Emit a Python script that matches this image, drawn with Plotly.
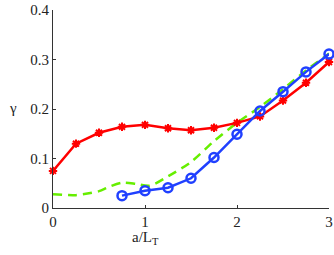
import plotly.graph_objects as go

x_red = [0, 0.25, 0.5, 0.75, 1.0, 1.25, 1.5, 1.75, 2.0, 2.25, 2.5, 2.75, 3.0]
y_red = [0.075, 0.130, 0.152, 0.164, 0.168, 0.161, 0.157, 0.162, 0.172, 0.185, 0.217, 0.253, 0.295]

x_blue = [0.75, 1.0, 1.25, 1.5, 1.75, 2.0, 2.25, 2.5, 2.75, 3.0]
y_blue = [0.025, 0.035, 0.041, 0.060, 0.102, 0.149, 0.196, 0.235, 0.275, 0.311]

x_green = [0, 0.25, 0.5, 0.6, 0.75, 0.9, 1.05, 1.25, 1.5, 1.75, 2.0, 2.25, 2.5, 2.75, 3.0]
y_green = [0.028, 0.026, 0.034, 0.042, 0.051, 0.049, 0.045, 0.064, 0.093, 0.135, 0.172, 0.204, 0.240, 0.278, 0.312]

xticks = [0, 1, 2, 3]
yticks = [0, 0.1, 0.2, 0.3, 0.4]
ytick_text = ["0", "0.1", "0.2", "0.3", "0.4"]

fig = go.Figure()
fig.add_trace(go.Scatter(x=x_green, y=y_green, mode="lines", line=dict(color="#66ee00", width=2.5, dash="9px,6px", shape="spline", smoothing=0.8), cliponaxis=False))
fig.add_trace(go.Scatter(x=x_red, y=y_red, mode="lines+markers", line=dict(color="#ff0000", width=2.5),
                         marker=dict(symbol="asterisk-open", size=7, color="#ff0000", line=dict(color="#ff0000", width=2)), cliponaxis=False))
fig.add_trace(go.Scatter(x=x_blue, y=y_blue, mode="lines+markers", line=dict(color="#2040ff", width=2.5),
                         marker=dict(symbol="circle-open", size=9, color="#2040ff", line=dict(color="#2040ff", width=2.5)), cliponaxis=False))

font = dict(family="Liberation Serif", size=15, color="#222")
fig.update_layout(
    width=334, height=255, margin=dict(l=53, r=5, t=10, b=47, autoexpand=False),
    paper_bgcolor="white", plot_bgcolor="white", showlegend=False, font=font,
    xaxis=dict(range=[0, 3], tickvals=xticks, ticks="inside", ticklen=3, tickcolor="#333",
               showline=True, linecolor="#333", linewidth=1, showgrid=False, zeroline=False,
               tickfont=font, automargin=False),
    yaxis=dict(range=[0, 0.4], tickvals=yticks, ticktext=ytick_text, ticks="inside", ticklen=3, tickcolor="#333",
               showline=True, linecolor="#333", linewidth=1, showgrid=False, zeroline=False,
               tickfont=font, automargin=False),
    annotations=[
        dict(text="γ", x=13, y=108, xref="paper", yref="paper", showarrow=False, font=font),
        dict(text="a/L<sub>T</sub>", xref="paper", yref="paper", showarrow=False, font=font),
    ],
)
pw, ph = 334 - 53 - 5, 255 - 10 - 47
fig.layout.annotations[0].update(x=(13 - 53) / pw, y=(208 - 108) / ph, xanchor="center", yanchor="middle")
fig.layout.annotations[1].update(x=(145 - 53) / pw, y=(208 - 238) / ph, xanchor="center", yanchor="middle")
fig.write_html("out.html", config={"displayModeBar": False, "staticPlot": True},
               post_script="document.body.style.margin='0';document.body.style.overflow='hidden';")
